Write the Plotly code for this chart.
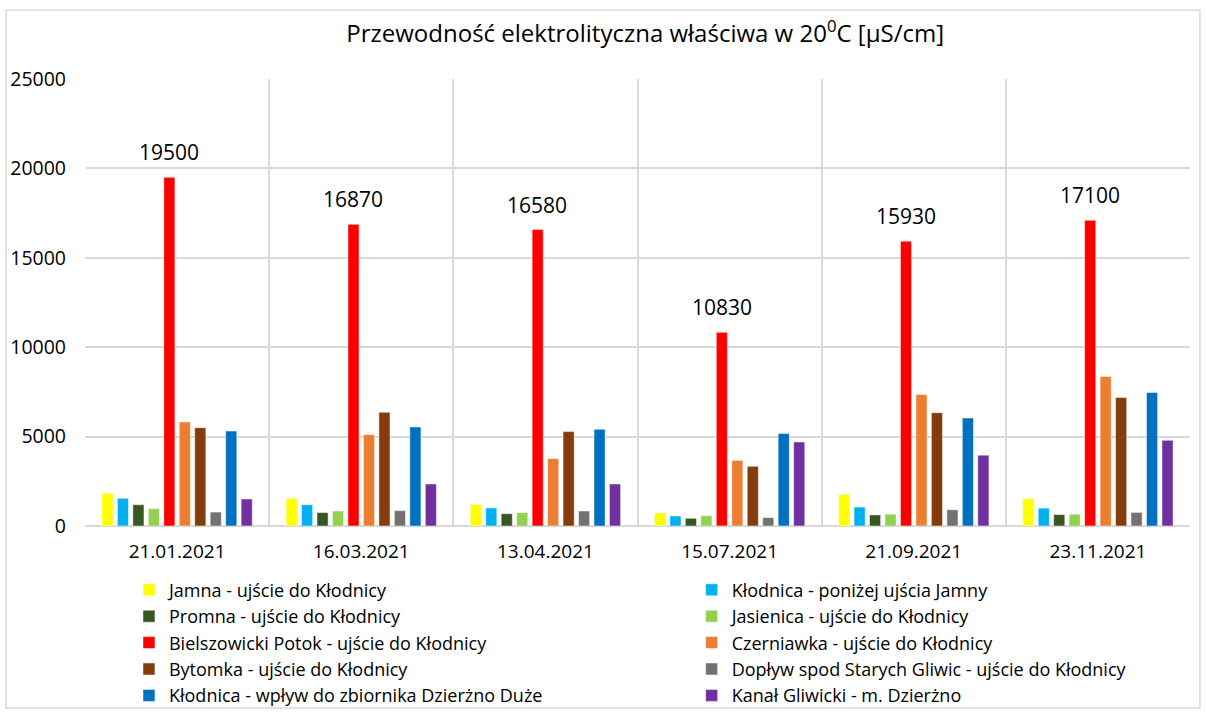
import plotly.graph_objects as go

dates = ['21.01.2021', '16.03.2021', '13.04.2021', '15.07.2021', '21.09.2021', '23.11.2021']

jamna = [1830, 1550, 1210, 730, 1770, 1530]
klodnica_ponizej = [1550, 1190, 1010, 560, 1060, 1000]
promna = [1190, 750, 690, 430, 620, 640]
jasienica = [970, 840, 750, 580, 660, 660]
bielszowicki = [19500, 16870, 16580, 10830, 15930, 17100]
czerniawka = [5820, 5110, 3770, 3670, 7360, 8360]
bytomka = [5500, 6360, 5280, 3340, 6340, 7190]
doplyw = [780, 860, 840, 470, 910, 760]
klodnica_wplyw = [5310, 5540, 5410, 5180, 6040, 7470]
kanal = [1510, 2350, 2350, 4700, 3960, 4790]

series = [
    ('Jamna - ujście do Kłodnicy', jamna, '#FFFF00'),
    ('Kłodnica - poniżej ujścia Jamny', klodnica_ponizej, '#00B0F0'),
    ('Promna - ujście do Kłodnicy', promna, '#375623'),
    ('Jasienica - ujście do Kłodnicy', jasienica, '#92D050'),
    ('Bielszowicki Potok - ujście do Kłodnicy', bielszowicki, '#FF0000'),
    ('Czerniawka - ujście do Kłodnicy', czerniawka, '#ED7D31'),
    ('Bytomka - ujście do Kłodnicy', bytomka, '#843C0C'),
    ('Dopływ spod Starych Gliwic - ujście do Kłodnicy', doplyw, '#767171'),
    ('Kłodnica - wpływ do zbiornika Dzierżno Duże', klodnica_wplyw, '#0070C0'),
    ('Kanał Gliwicki - m. Dzierżno', kanal, '#7030A0'),
]

FONT = 'Open Sans, Liberation Sans, sans-serif'

fig = go.Figure()
for i, (name, values, color) in enumerate(series):
    # legend is laid out in two columns: even items left, odd items right
    fig.add_trace(
        go.Bar(
            x=dates,
            y=values,
            name=name,
            marker_color=color,
            marker_line=dict(color='white', width=0.5),
            legend='legend' if i % 2 == 0 else 'legend2',
        )
    )

# data labels above the red bars (Bielszowicki Potok, 5th bar in each group)
for d, v in zip(dates, bielszowicki):
    fig.add_annotation(
        x=d, y=v, text=str(v),
        showarrow=False,
        yanchor='bottom', yshift=9, xshift=-8,
        font=dict(size=21, family=FONT, color='#000000'),
    )

legend_style = dict(
    orientation='v',
    yanchor='top',
    y=-0.102,
    xanchor='left',
    font=dict(size=18, family=FONT, color='#000000'),
    bgcolor='rgba(0,0,0,0)',
    traceorder='normal',
)

fig.update_layout(
    width=1206,
    height=713,
    barmode='group',
    bargap=0.16,
    bargroupgap=0.28,
    plot_bgcolor='white',
    paper_bgcolor='white',
    font=dict(family=FONT, size=17, color='#000000'),
    title=dict(
        text='Przewodność elektrolityczna właściwa w 20<sup>0</sup>C [µS/cm]',
        x=0.535,
        xanchor='center',
        y=0.953,
        yanchor='middle',
        font=dict(size=24, family=FONT, color='#000000'),
    ),
    margin=dict(l=85, r=16, t=79, b=187, autoexpand=False),
    legend=dict(x=0.0398, **legend_style),
    legend2=dict(x=0.549, **legend_style),
    showlegend=True,
)

fig.update_xaxes(
    type='category',
    tickson='boundaries',
    showgrid=True,
    gridcolor='#d9d9d9',
    gridwidth=2,
    showline=False,
    ticks='',
    ticklabelstandoff=12,
    tickfont=dict(size=19),
)
fig.update_yaxes(
    range=[0, 25000],
    dtick=5000,
    showgrid=True,
    gridcolor='#d9d9d9',
    gridwidth=2,
    zeroline=True,
    zerolinecolor='#d9d9d9',
    zerolinewidth=2,
    tickformat='d',
    ticklabelstandoff=18,
    tickfont=dict(size=19.5),
)

# light outer frame like the original chart area
fig.add_shape(
    type='rect', xref='paper', yref='paper',
    x0=-0.0715, x1=1.009, y0=-0.407, y1=1.154,
    line=dict(color='#d9d9d9', width=1.5),
    layer='below',
)

# the page body has a default 8px margin; drop it so the figure sits at the window corner
fig.write_html(
    'out.html',
    config={'displayModeBar': False},
    post_script="document.body.style.margin = '0';",
)
